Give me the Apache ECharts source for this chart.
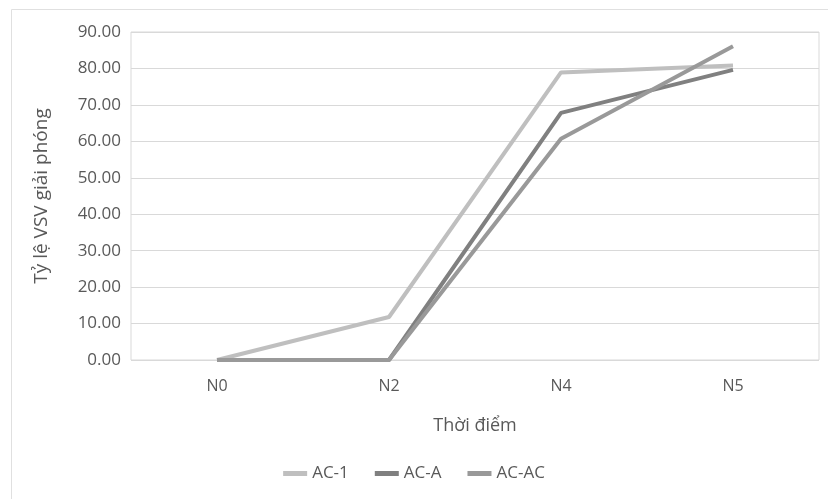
<!DOCTYPE html>
<html><head><meta charset="utf-8">
<script src="https://cdn.jsdelivr.net/npm/echarts@6/dist/echarts.min.js"></script>
<style>html,body{margin:0;padding:0;background:#fff}#c{width:828px;height:499px}</style>
</head><body><div id="c"></div>
<script>
const categories = ['N0', 'N2', 'N4', 'N5'];
const seriesNames = ['AC-1', 'AC-A', 'AC-AC'];
const ac1 = [0, 11.8, 78.9, 80.8];
const acA = [0, 0, 67.8, 79.6];
const acAC = [0, 0, 60.7, 86.1];
const yTicks = [0, 10, 20, 30, 40, 50, 60, 70, 80, 90];
const colors = ['#bfbfbf', '#808080', '#999999'];

const chart = echarts.init(document.getElementById('c'), null, {renderer: 'canvas'});
const font = '"Open Sans", "Noto Sans", sans-serif';
chart.setOption({
  animation: false,
  backgroundColor: '#fff',
  graphic: [
    {type: 'line', shape: {x1: 11.5, y1: 9.5, x2: 828, y2: 9.5}, style: {stroke: '#e0e0e0', lineWidth: 1}},
    {type: 'line', shape: {x1: 11.5, y1: 9.5, x2: 11.5, y2: 499}, style: {stroke: '#e0e0e0', lineWidth: 1}}
  ],
  grid: {left: 131, right: 9, top: 32, bottom: 139, show: true, borderColor: '#d9d9d9', borderWidth: 1},
  legend: {
    data: seriesNames, bottom: 12, left: 'center', itemWidth: 24, itemHeight: 5, itemGap: 26,
    icon: 'rect', textStyle: {fontFamily: font, fontSize: 17, color: '#595959'}
  },
  xAxis: {
    type: 'category', data: categories, boundaryGap: true,
    name: 'Thời điểm', nameLocation: 'middle', nameGap: 57,
    nameTextStyle: {fontFamily: font, fontSize: 18, color: '#595959'},
    axisLine: {show: false}, axisTick: {show: false},
    axisLabel: {fontFamily: font, fontSize: 16, color: '#595959', margin: 18}
  },
  yAxis: {
    type: 'value', min: yTicks[0], max: yTicks[yTicks.length - 1], interval: 10,
    name: 'Tỷ lệ VSV giải phóng', nameLocation: 'middle', nameGap: 80,
    nameTextStyle: {fontFamily: font, fontSize: 19, color: '#595959'},
    axisLine: {show: false}, axisTick: {show: false},
    axisLabel: {fontFamily: font, fontSize: 17, color: '#595959', margin: 10, formatter: v => v.toFixed(2)},
    splitLine: {lineStyle: {color: '#d9d9d9', width: 1}}
  },
  series: [
    {name: seriesNames[0], type: 'line', data: ac1, showSymbol: false, symbol: 'none', lineStyle: {width: 4, color: colors[0]}, itemStyle: {color: colors[0]}},
    {name: seriesNames[1], type: 'line', data: acA, showSymbol: false, symbol: 'none', lineStyle: {width: 4, color: colors[1]}, itemStyle: {color: colors[1]}},
    {name: seriesNames[2], type: 'line', data: acAC, showSymbol: false, symbol: 'none', lineStyle: {width: 4, color: colors[2]}, itemStyle: {color: colors[2]}}
  ]
});
</script></body></html>
